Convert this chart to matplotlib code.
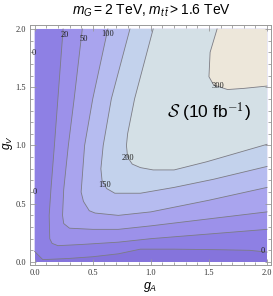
import matplotlib
matplotlib.use("Agg")
import matplotlib.pyplot as plt
import numpy as np

plt.rcParams['font.family'] = ['Liberation Sans', 'DejaVu Sans']
plt.rcParams['mathtext.fontset'] = 'custom'
plt.rcParams['mathtext.rm'] = 'Liberation Sans'
plt.rcParams['mathtext.it'] = 'Liberation Sans:italic'

# --- DATA: contour levels of S (10 fb^-1) and band colours above each level ---
levels = [0, 20, 50, 100, 150, 200, 300]
band_colors = ["#8E80E4", "#9C91EA", "#A9A4EE", "#B6BCF0", "#C3D2EC", "#D4E0E6", "#EDE7DA"]
below_color = "#8574DC"

# contour lines, (g_A, g_V) from top edge round to right edge
c0_gA = [0.0, 0.0, 0.0, 0.07, 0.29, 0.50, 0.72, 0.91, 1.20, 1.60, 1.85, 2.0]
c0_gV = [2.0, 1.0, 0.09, 0.02, 0.03, 0.045, 0.07, 0.11, 0.11, 0.105, 0.10, 0.085]

c20_gA = [0.245, 0.20, 0.17, 0.14, 0.125, 0.13, 0.15, 0.20, 0.40, 0.72, 1.0, 1.5, 2.0]
c20_gV = [2.0, 1.4, 1.0, 0.62, 0.40, 0.20, 0.16, 0.14, 0.15, 0.17, 0.20, 0.24, 0.28]

c50_gA = [0.41, 0.34, 0.29, 0.25, 0.24, 0.25, 0.30, 0.50, 0.72, 1.0, 1.5, 2.0]
c50_gV = [2.0, 1.4, 1.0, 0.62, 0.40, 0.33, 0.29, 0.28, 0.28, 0.31, 0.37, 0.43]

c100_gA = [0.63, 0.50, 0.43, 0.40, 0.42, 0.47, 0.52, 0.72, 1.0, 1.5, 2.0]
c100_gV = [2.0, 1.4, 1.0, 0.60, 0.52, 0.44, 0.42, 0.40, 0.43, 0.53, 0.64]

c150_gA = [0.82, 0.66, 0.59, 0.57, 0.58, 0.62, 0.69, 0.91, 1.2, 1.54, 2.0]
c150_gV = [2.0, 1.4, 1.0, 0.80, 0.70, 0.63, 0.59, 0.59, 0.64, 0.71, 0.82]

c200_gA = [1.02, 0.86, 0.80, 0.79, 0.80, 0.84, 0.91, 1.02, 1.20, 1.48, 2.0]
c200_gV = [2.0, 1.4, 1.1, 1.0, 0.90, 0.84, 0.81, 0.79, 0.79, 0.86, 1.01]

c300_gA = [1.57, 1.51, 1.50, 1.54, 1.66, 1.80, 2.0]
c300_gV = [2.0, 1.80, 1.59, 1.52, 1.48, 1.49, 1.51]

contours_gA = [c0_gA, c20_gA, c50_gA, c100_gA, c150_gA, c200_gA, c300_gA]
contours_gV = [c0_gV, c20_gV, c50_gV, c100_gV, c150_gV, c200_gV, c300_gV]

# contour labels as placed on the plot
label_text = ["0", "0", "0", "20", "50", "100", "150", "200", "300"]
label_gA = [-0.01, 0.0, 1.96, 0.26, 0.42, 0.63, 0.60, 0.80, 1.58]
label_gV = [1.79, 0.60, 0.095, 1.95, 1.91, 1.96, 0.66, 0.89, 1.51]

# --- PLOT ---
fig = plt.figure(figsize=(2.73, 2.96), dpi=100)
ax = fig.add_axes([30 / 273, 1 - 265 / 296, 241 / 273, 240 / 296])

ax.fill([0, 2, 2, 0], [0, 0, 2, 2], color=below_color, lw=0)
for i in range(len(levels)):
    xs = contours_gA[i] + [2.0]
    ys = contours_gV[i] + [2.0]
    ax.fill(xs, ys, color=band_colors[i], lw=0)
for i in range(len(levels)):
    gA, gV = contours_gA[i], contours_gV[i]
    if levels[i] == 0:
        gA, gV = gA[2:], gV[2:]  # skip the bit hugging the left edge
    ax.plot(gA, gV, color="#7c7c84", lw=0.6, solid_joinstyle='round')

for t, x, y in zip(label_text, label_gA, label_gV):
    ax.text(x, y, t, fontsize=6, family='Liberation Serif', ha='center', va='center',
            color='#222222')

ax.text(1.50, 1.28, r'$\mathcal{S}$ (10 fb$^{\mathsf{-1}}$)', fontsize=12.5,
        ha='center', va='center', math_fontfamily='cm')

ax.set_xlim(-0.040, 2.034)
ax.set_ylim(-0.026, 2.034)

major = [0, 0.5, 1.0, 1.5, 2.0]
minor = np.arange(0, 2.01, 0.1)
ax.set_xticks(major)
ax.set_xticklabels(["0.0", "0.5", "1.0", "1.5", "2.0"])
ax.set_yticks(major)
ax.set_yticklabels(["0.0", "0.5", "1.0", "1.5", "2.0"])
ax.set_xticks(minor, minor=True)
ax.set_yticks(minor, minor=True)
ax.tick_params(which='both', direction='in', top=True, right=True, color='#999999',
               width=0.6, labelsize=6, labelcolor='#333333', labelfontfamily='Liberation Serif')
ax.tick_params(which='major', length=4, pad=3)
ax.tick_params(which='minor', length=2)
for sp in ax.spines.values():
    sp.set_color('#999999')
    sp.set_linewidth(0.7)

ax.set_xlabel(r'$g_A$', fontsize=9, labelpad=2)
ax.set_ylabel(r'$g_V$', fontsize=8.5, va='center')
ax.yaxis.set_label_coords(-0.092, 0.51)
fig.text(0.553, 1 - 11 / 296, r'$m_G = 2$ TeV, $m_{t\,\bar{t}} > 1.6$ TeV', fontsize=10,
         ha='center', va='center')

fig.savefig("out.png", dpi=100)
